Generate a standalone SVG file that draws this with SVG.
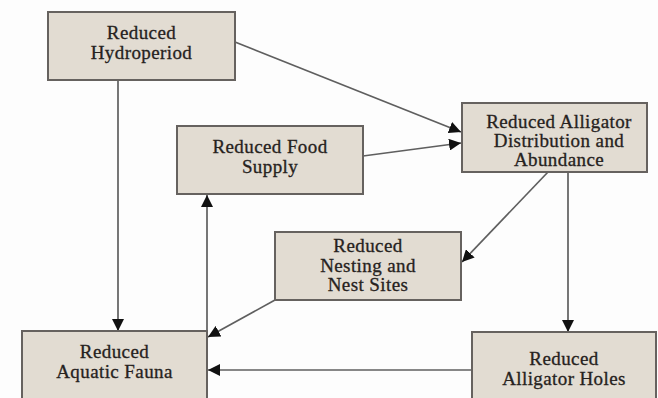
<svg xmlns="http://www.w3.org/2000/svg" width="658" height="398" viewBox="0 0 658 398">
<style>
.box{fill:#e2dcd2;stroke:#66625f;stroke-width:2}
.t{font-family:"Liberation Serif","Times New Roman",serif;font-size:19px;letter-spacing:0.4px;fill:#262220;stroke:#262220;stroke-width:0.3;text-anchor:middle}
.c{stroke:#5f5f5f;stroke-width:1.7;fill:none;marker-end:url(#ah)}
</style>
<defs>
<marker id="ah" viewBox="0 0 12 12" refX="12" refY="6" markerWidth="12" markerHeight="12" markerUnits="userSpaceOnUse" orient="auto">
<path d="M0,0 L12,6 L0,12 Z" fill="#111"/>
</marker>
</defs>
<rect width="658" height="398" fill="#fdfdfd"/>
<g id="connectors">
<line class="c" x1="118" y1="80" x2="118" y2="331"/>
<line class="c" x1="235" y1="42" x2="461" y2="132"/>
<line class="c" x1="363" y1="156" x2="461" y2="143"/>
<line class="c" x1="568" y1="172" x2="568" y2="332"/>
<line class="c" x1="548" y1="172" x2="462" y2="262"/>
<line class="c" x1="207" y1="331" x2="207" y2="195"/>
<line class="c" x1="275" y1="300" x2="208" y2="337"/>
<line class="c" x1="472" y1="370" x2="208" y2="370"/>
</g>
<g id="hydroperiod">
<rect class="box" x="48" y="12" width="187" height="68"/>
<text class="t" x="141.5" y="39">Reduced</text>
<text class="t" x="141.5" y="59">Hydroperiod</text>
</g>
<g id="food">
<rect class="box" x="177" y="126" width="186" height="68"/>
<text class="t" x="270" y="153">Reduced Food</text>
<text class="t" x="270" y="173">Supply</text>
</g>
<g id="distribution">
<rect class="box" x="462" y="103" width="185" height="69"/>
<text class="t" x="559" y="128">Reduced Alligator</text>
<text class="t" x="559" y="147">Distribution and</text>
<text class="t" x="559" y="166">Abundance</text>
</g>
<g id="nesting">
<rect class="box" x="275" y="232" width="186" height="68"/>
<text class="t" x="368" y="252">Reduced</text>
<text class="t" x="368" y="272">Nesting and</text>
<text class="t" x="368" y="291">Nest Sites</text>
</g>
<g id="fauna">
<rect class="box" x="22" y="331" width="185" height="80"/>
<text class="t" x="114.5" y="358">Reduced</text>
<text class="t" x="114.5" y="378">Aquatic Fauna</text>
</g>
<g id="holes">
<rect class="box" x="472" y="332" width="184" height="80"/>
<text class="t" x="564" y="365">Reduced</text>
<text class="t" x="564" y="385">Alligator Holes</text>
</g>
</svg>
